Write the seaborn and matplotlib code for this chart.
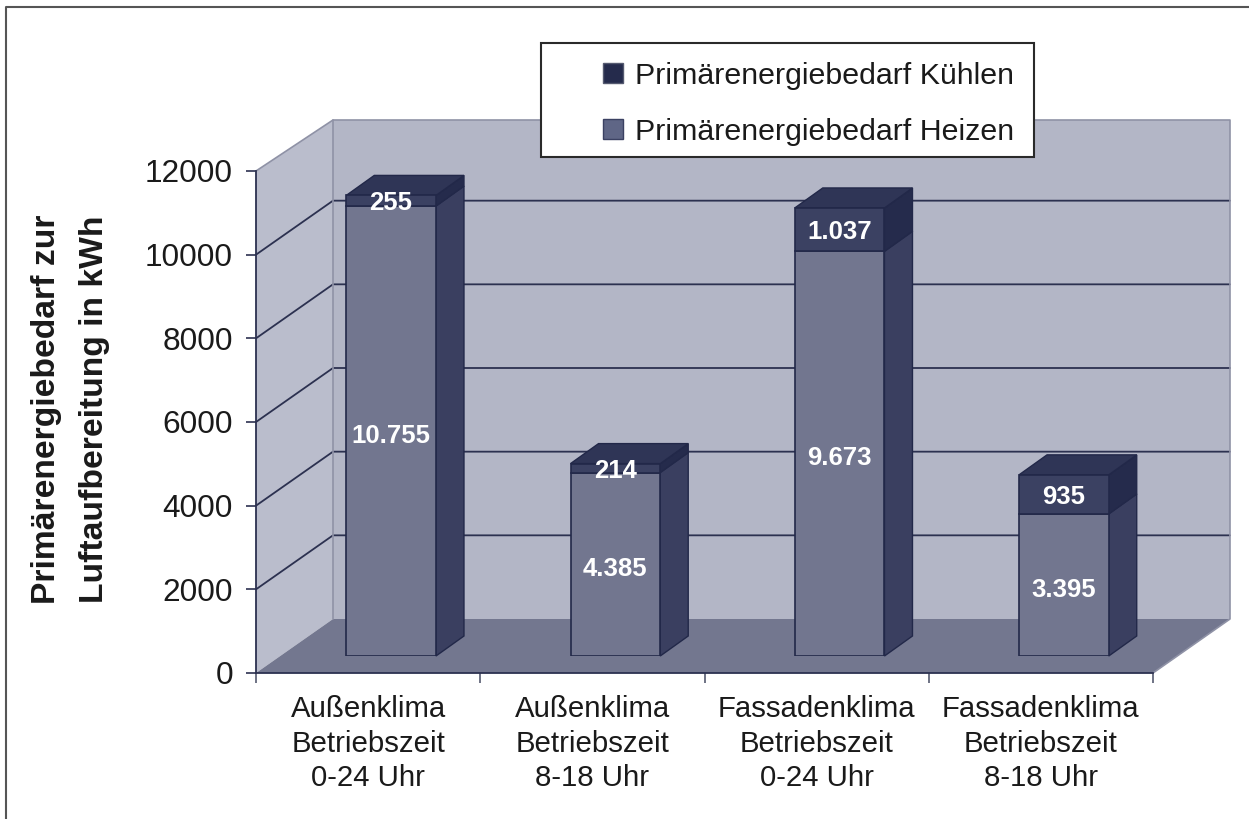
import matplotlib
matplotlib.use("Agg")
import matplotlib.pyplot as plt
from matplotlib.lines import Line2D
from matplotlib.patches import Polygon, Rectangle, Patch
import seaborn as sns

categories = ["Außenklima\nBetriebszeit\n0-24 Uhr", "Außenklima\nBetriebszeit\n8-18 Uhr",
              "Fassadenklima\nBetriebszeit\n0-24 Uhr", "Fassadenklima\nBetriebszeit\n8-18 Uhr"]
heizen = [10755, 4385, 9673, 3395]
kuehlen = [255, 214, 1037, 935]
heizen_labels = ["10.755", "4.385", "9.673", "3.395"]
kuehlen_labels = ["255", "214", "1.037", "935"]
y_ticks = [0, 2000, 4000, 6000, 8000, 10000, 12000]
legend_labels = ["Primärenergiebedarf Kühlen", "Primärenergiebedarf Heizen"]

W, H = 1249, 819
C_WALL = "#b3b6c6"
C_SIDEWALL = "#babdcc"
C_FLOOR = "#73778f"
C_LINE = "#2c3150"
C_HEIZ = "#72768f"
C_HEIZ_SIDE = "#3a3f60"
C_KUEHL = "#3b4162"
C_KUEHL_SIDE = "#252b4c"
C_TOP = "#2f3556"
C_EDGE = "#222849"


def box(x0, y0, x1, y1):
    # pixel box (y from the top) -> figure rectangle
    return [x0 / W, 1 - y1 / H, (x1 - x0) / W, (y1 - y0) / H]


def add_wall(ax, dx, dy, dy_top):
    ymax = y_ticks[-1]
    x0, x1 = ax.get_xlim()
    ax.add_patch(Polygon([(x0 + dx, dy), (x1 + dx, dy), (x1 + dx, ymax + dy_top), (x0 + dx, ymax + dy_top)],
                         closed=True, fc=C_WALL, ec="none", clip_on=False, zorder=1))
    ax.add_patch(Polygon([(x0, 0), (x0, ymax), (x0 + dx, ymax + dy_top), (x0 + dx, dy)],
                         closed=True, fc=C_SIDEWALL, ec="none", clip_on=False, zorder=1))
    ax.add_patch(Polygon([(x0, 0), (x1, 0), (x1 + dx, dy), (x0 + dx, dy)],
                         closed=True, fc=C_FLOOR, ec="none", clip_on=False, zorder=1.5))
    for t in y_ticks[1:-1]:
        ax.plot([x0, x0 + dx, x1 + dx], [t, t + dy, t + dy], color=C_LINE, lw=1.3, clip_on=False, zorder=2)
    ax.plot([x0, x0 + dx, x1 + dx, x1 + dx, x1], [ymax, ymax + dy_top, ymax + dy_top, dy, 0], color="#8f92a6",
            lw=1.2, clip_on=False, zorder=2)
    ax.plot([x0 + dx, x0 + dx], [dy, ymax + dy_top], color="#8f92a6", lw=1.2, clip_on=False, zorder=2)


def add_depth(ax, bar, dx, dy, side_color, top=False):
    x = bar.get_x() + bar.get_width()
    y0, y1 = bar.get_y(), bar.get_y() + bar.get_height()
    ax.add_patch(Polygon([(x, y0), (x + dx, y0 + dy), (x + dx, y1 + dy), (x, y1)], closed=True,
                         fc=side_color, ec=C_EDGE, lw=1, clip_on=False, zorder=3))
    if top:
        left = bar.get_x()
        ax.add_patch(Polygon([(left, y1), (x, y1), (x + dx, y1 + dy), (left + dx, y1 + dy)], closed=True,
                             fc=C_TOP, ec=C_EDGE, lw=1, clip_on=False, zorder=3))


sns.set_theme(style="white")
plt.rcParams["font.family"] = ["Liberation Sans", "DejaVu Sans"]

fig = plt.figure(figsize=(W / 100, H / 100), dpi=100, facecolor="white")
ax = fig.add_axes(box(256, 171, 1153, 673))
ax.set_xlim(-0.5, 3.5)
ax.set_ylim(0, 12000)
ax.patch.set_alpha(0)
for s in ["top", "right"]:
    ax.spines[s].set_visible(False)
for s in ["left", "bottom"]:
    ax.spines[s].set_color(C_LINE)
    ax.spines[s].set_linewidth(1.3)
    ax.spines[s].set_zorder(5)

px_x = 897 / 4
px_y = 502 / 12000
add_wall(ax, 77 / px_x, 54 / px_y, 51 / px_y)

ax.set_yticks(y_ticks)
ax.set_yticklabels([str(t) for t in y_ticks], fontsize=22.8, color="#1a1a1a")
ax.set_xticks([-0.5, 0.5, 1.5, 2.5, 3.5])
ax.set_xticklabels([])
ax.set_xticks([0, 1, 2, 3], minor=True)
ax.set_xticklabels(categories, minor=True, fontsize=21.2, color="#1a1a1a", linespacing=1.3)
ax.tick_params(axis="y", left=True, length=7.5, width=1.2, color=C_LINE, pad=9)
ax.tick_params(axis="x", which="major", bottom=True, length=7.5, width=1.2, color="#555a70")
ax.tick_params(axis="x", which="minor", bottom=False, length=0, pad=16)
ax.set_ylabel("Primärenergiebedarf zur\nLuftaufbereitung in kWh", fontsize=24.2, fontweight="bold", color="#1a1a1a",
              labelpad=25, linespacing=1.72, y=0.525)

# bars sit part way into the depth of the floor
bar_ax = fig.add_axes(box(256 + 23, 171 - 17, 1153 + 23, 673 - 17))
bar_ax.patch.set_alpha(0)
bar_ax.set_axis_off()
sns.barplot(x=categories, y=heizen, color=C_HEIZ, saturation=1, width=0.4, edgecolor=C_EDGE, linewidth=1.2,
            ax=bar_ax, zorder=4)
sns.barplot(x=categories, y=kuehlen, bottom=heizen, color=C_KUEHL, saturation=1, width=0.4, edgecolor=C_EDGE,
            linewidth=1.2, ax=bar_ax, zorder=4)
bar_ax.set_xlim(-0.5, 3.5)
bar_ax.set_ylim(0, 12000)
bar_ax.set_axis_off()

dx, dy = 28 / px_x, 20 / px_y
bars = list(bar_ax.patches)
for bar in bars[:4]:
    add_depth(bar_ax, bar, dx, dy, C_HEIZ_SIDE)
for bar in bars[4:]:
    add_depth(bar_ax, bar, dx, dy, C_KUEHL_SIDE, top=True)

for i in range(4):
    bar_ax.text(i, heizen[i] / 2 - 110, heizen_labels[i], color="white", fontsize=18.5, fontweight="bold",
                ha="center", va="center", zorder=6)
    y = heizen[i] + kuehlen[i] / 2 - 60
    bar_ax.text(i, y, kuehlen_labels[i], color="white", fontsize=18.5, fontweight="bold",
                ha="center", va="center", zorder=6)

# legend box, the frame has only its top and left line
fig.add_artist(Rectangle((541 / W, 1 - 157 / H), 493 / W, 114 / H, transform=fig.transFigure, fc="white",
                         ec="#2a2a2a", lw=1.5, zorder=4))
handles = [Patch(fc=C_KUEHL_SIDE, ec="#555a70", lw=1), Patch(fc="#5f6686", ec="#3b4162", lw=1)]
fig.legend(handles, legend_labels, loc="upper left", bbox_to_anchor=(603 / W, 1 - 62 / H), frameon=False,
           fontsize=21.9, borderpad=0, borderaxespad=0, labelspacing=0.92, handlelength=0.65, handleheight=0.65,
           handletextpad=0.4, labelcolor="#1a1a1a")
fig.add_artist(Line2D([6 / W, 6 / W, 1], [0, 1 - 7 / H, 1 - 7 / H], transform=fig.transFigure, color="#555555",
                      lw=1.5, zorder=0))

fig.savefig("out.png", dpi=100)
